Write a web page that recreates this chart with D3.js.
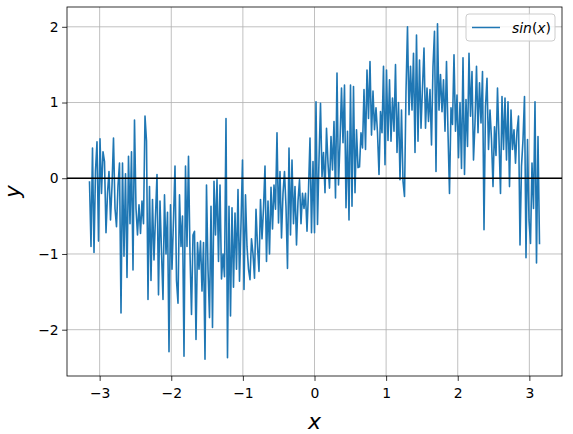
<!DOCTYPE html>
<html><head><meta charset="utf-8">
<script src="https://cdn.jsdelivr.net/npm/d3@7"></script>
<style>body{margin:0;background:#fff} svg{display:block}</style>
</head><body><svg id="c" width="573" height="434"></svg>
<script>
// ---- data ----
const xStart = -Math.PI, xEnd = Math.PI;
const yValues = [
 -0.05,-0.9,0.4,-0.98,0.1,0.48,-0.83,0.52,-0.2,0.35,
 0.22,-0.72,-0.2,0.09,-0.55,-0.1,0.53,-0.4,-0.64,-0.1,
 0.2,-1.78,0.2,-1.03,0.06,-1.31,0.29,-0.6,0.35,-1.21,
 0.77,-0.4,-0.75,-0.35,-0.73,-0.3,-0.6,0.82,0.49,-1.6,
 -0.11,-1.35,-0.28,-1.08,-0.5,0.05,-1.54,-0.3,-0.97,-1.6,
 -0.22,-1.0,-0.45,-2.29,-0.35,-1.2,-0.55,0.16,-1.35,-1.65,
 -0.22,-0.9,-0.5,-2.35,0.16,-0.9,0.29,-1.0,-1.80,-0.75,
 -0.7,-2.13,-0.85,-1.2,-0.83,-1.49,-0.85,-2.39,-0.09,-1.2,
 -1.84,-0.37,-1.97,-0.04,-0.75,-0.02,-1.1,-0.09,-1.33,-1.0,
 -1.3,0.79,-2.37,-0.37,-1.82,-0.39,-1.44,-0.46,-1.2,-0.15,
 -1.36,-0.6,0.24,-1.47,-0.22,-0.9,-1.2,-1.34,-0.8,-1.0,
 -1.32,-0.41,-0.9,-1.23,-0.28,-0.8,-0.4,0.16,-1.10,-0.3,
 -1.0,-0.12,-0.67,-0.09,-0.41,0.60,-0.59,0.09,-0.79,-0.2,
 0.09,-0.38,-1.19,0.40,-0.75,0.24,-0.6,-0.11,-0.88,-0.3,
 -0.02,-0.6,-0.2,-0.4,-0.2,-0.7,-0.16,0.53,-0.72,0.22,
 -0.72,1.01,-0.61,0.24,0.99,0.02,0.34,-0.19,0.66,0.2,
 -0.13,0.55,0.11,0.75,-0.26,1.39,-0.09,0.47,1.19,0.47,
 1.23,-0.39,0.62,-0.55,1.23,-0.37,1.21,-0.19,0.64,0.14,
 0.15,0.6,0.4,1.17,0.38,1.43,0.79,1.54,0.57,1.15,
 0.64,0.93,0.6,0.05,0.88,0.6,1.48,0.18,1.43,0.5,
 1.30,0.49,1.06,0.62,1.50,0.34,1.0,-0.02,0.9,-0.04,
 -0.24,1.15,2.0,0.84,1.48,0.9,1.65,0.34,1.89,0.49,
 1.56,0.66,1.2,1.72,0.66,1.19,0.75,1.17,0.44,1.48,
 1.94,0.09,2.04,0.9,1.37,0.88,1.30,0.62,1.54,0.6,
 -0.20,0.93,0.71,1.63,0.62,1.1,0.27,1.0,0.13,1.59,
 0.05,1.04,0.42,1.65,0.82,1.41,0.24,0.73,1.48,0.60,
 1.26,0.73,1.41,-0.68,0.95,1.32,0.38,0.9,0.51,-0.11,
 0.68,0.3,1.19,0.51,-0.20,1.08,0.38,1.06,0.24,1.01,
 -0.11,0.90,0.38,0.64,0.2,0.62,0.82,-0.88,0.16,0.51,
 1.08,-1.05,0.51,-0.55,-0.86,0.2,-0.4,1.01,-1.12,0.55,-0.86
];
const xTicks = [-3,-2,-1,0,1,2,3];
const yTicks = [-2,-1,0,1,2];
const xLabel = "x", yLabel = "y";
const legendParts = [["sin",true],["(",false],["x",true],[")",false]];

// ---- layout ----
const L = 67, R = 562, T = 7, B = 376;
const n = yValues.length;
const xValues = yValues.map((_, i) => xStart + i * (xEnd - xStart) / (n - 1));
const pts = xValues.map((x, i) => [x, yValues[i]]);

const xr = xEnd - xStart, ymin = d3.min(yValues), ymax = d3.max(yValues), yr = ymax - ymin;
const x = d3.scaleLinear().domain([xStart - 0.05*xr, xEnd + 0.05*xr]).range([L, R]);
const y = d3.scaleLinear().domain([ymin - 0.05*yr, ymax + 0.05*yr]).range([B, T]);

const svg = d3.select("#c");
svg.append("rect").attr("width",573).attr("height",434).attr("fill","#fff");
const font = "'DejaVu Sans', sans-serif";
const fmt = v => v < 0 ? "\u2212" + Math.abs(v) : String(v);

// grid
const g = svg.append("g");
g.selectAll(".gx").data(xTicks).join("line")
  .attr("x1", d => x(d)).attr("x2", d => x(d)).attr("y1", T).attr("y2", B)
  .attr("stroke", "#b0b0b0").attr("stroke-width", 0.8);
g.selectAll(".gy").data(yTicks).join("line")
  .attr("y1", d => y(d)).attr("y2", d => y(d)).attr("x1", L).attr("x2", R)
  .attr("stroke", "#b0b0b0").attr("stroke-width", 0.8);

// clip
svg.append("clipPath").attr("id","clip").append("rect")
  .attr("x", L).attr("y", T).attr("width", R-L).attr("height", B-T);

svg.append("path").datum(pts)
  .attr("clip-path","url(#clip)")
  .attr("d", d3.line().x(d => x(d[0])).y(d => y(d[1])))
  .attr("fill","none").attr("stroke","#1f77b4").attr("stroke-width",1.6)
  .attr("stroke-linejoin","round").attr("stroke-linecap","square");

// axhline at 0
svg.append("line").attr("x1", L).attr("x2", R).attr("y1", y(0)).attr("y2", y(0))
  .attr("stroke","#000").attr("stroke-width",1.5);

// frame
svg.append("rect").attr("x", L).attr("y", T).attr("width", R-L).attr("height", B-T)
  .attr("fill","none").attr("stroke","#000").attr("stroke-width",0.8);

// axes
const xAxis = d3.axisBottom(x).tickValues(xTicks).tickFormat(fmt).tickSize(4.9).tickPadding(3.5);
const yAxis = d3.axisLeft(y).tickValues(yTicks).tickFormat(fmt).tickSize(4.9).tickPadding(3.5);
const ax = svg.append("g").attr("transform", `translate(0,${B})`).call(xAxis);
const ay = svg.append("g").attr("transform", `translate(${L},0)`).call(yAxis);
[ax, ay].forEach(a => {
  a.select(".domain").remove();
  a.selectAll(".tick line").attr("stroke","#000").attr("stroke-width",0.8);
  a.selectAll(".tick text").attr("fill","#000").style("font-family", font).style("font-size","13.9px");
});
ax.selectAll(".tick text").attr("dy","0.95em");

// axis labels
svg.append("text").attr("x", (L+R)/2).attr("y", 429).attr("text-anchor","middle")
  .style("font-family", font).style("font-style","italic").style("font-size","22px").text(xLabel);
svg.append("text").attr("transform", `translate(20,${(T+B)/2}) rotate(-90)`).attr("text-anchor","middle")
  .style("font-family", font).style("font-style","italic").style("font-size","21px").text(yLabel);

// legend
const lg = svg.append("g");
const lx = 466, ly = 14, lw = 89, lh = 27;
lg.append("rect").attr("x", lx).attr("y", ly).attr("width", lw).attr("height", lh)
  .attr("rx", 3).attr("fill","#fff").attr("fill-opacity",0.8).attr("stroke","#cccccc").attr("stroke-width",1);
lg.append("line").attr("x1", lx+6).attr("x2", lx+34).attr("y1", ly+lh/2).attr("y2", ly+lh/2)
  .attr("stroke","#1f77b4").attr("stroke-width",1.5);
const lt = lg.append("text").attr("x", lx+46).attr("y", ly+lh/2+5)
  .style("font-family", font).style("font-size","13.9px");
legendParts.forEach(([t, it]) => lt.append("tspan").style("font-style", it ? "italic" : "normal").text(t));
</script></body></html>
